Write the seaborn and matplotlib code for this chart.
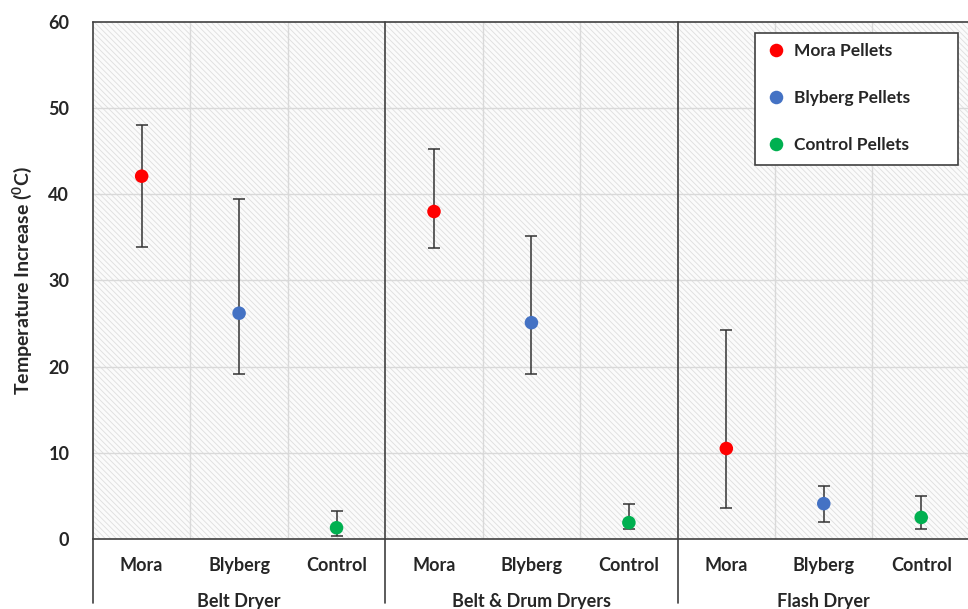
import numpy as np
import pandas as pd
import matplotlib
matplotlib.use("Agg")
import matplotlib.pyplot as plt
import seaborn as sns
from matplotlib.patches import Rectangle

# datos
grupos = ["Belt Dryer", "Belt & Drum Dryers", "Flash Dryer"]
pellets = ["Mora", "Blyberg", "Control"]
series = ["Mora Pellets", "Blyberg Pellets", "Control Pellets"]
valores = [42.1, 26.2, 1.3, 38.0, 25.1, 1.9, 10.5, 4.1, 2.5]
err_bajo = [33.9, 19.1, 0.3, 33.8, 19.2, 1.2, 3.6, 2.0, 1.2]
err_alto = [48.0, 39.5, 3.2, 45.2, 35.2, 4.0, 24.3, 6.1, 5.0]
colores = ["#ff0000", "#4472c4", "#00b050"]

sns.set_style("white")
plt.rcParams["font.family"] = ["Lato", "DejaVu Sans"]
plt.rcParams["hatch.color"] = "#dedede"
plt.rcParams["hatch.linewidth"] = 0.6

df = pd.DataFrame({
    "pos": np.arange(9),
    "valor": valores,
    "serie": series * 3,
    "bajo": err_bajo,
    "alto": err_alto,
})

fig = plt.figure(figsize=(9.68, 6.09), dpi=100)
ax = fig.add_axes([0.096, 0.115, 0.906, 0.849])

# fondo rayado
ax.add_patch(Rectangle((0, 0), 1, 1, transform=ax.transAxes, facecolor="#fbfbfb",
                       hatch="\\\\\\\\\\\\", edgecolor="#dedede", linewidth=0, zorder=0))

ax.set_xlim(-0.5, 8.5)
ax.set_ylim(0, 60)

# grilla
for y in range(10, 60, 10):
    ax.axhline(y, color="#d9d9d9", lw=1, zorder=1)
for x in np.arange(0.5, 8.5, 1):
    if x in (2.5, 5.5):
        continue
    ax.axvline(x, color="#d9d9d9", lw=1, zorder=1)

# barras de error
ax.errorbar(df["pos"], df["valor"],
            yerr=[df["valor"] - df["bajo"], df["alto"] - df["valor"]],
            fmt="none", ecolor="#333333", elinewidth=1.1, capsize=4, capthick=1.1, zorder=2)

sns.scatterplot(data=df, x="pos", y="valor", hue="serie", palette=colores,
                s=95, edgecolor="none", ax=ax, zorder=3)

# separadores de grupo que bajan hasta el borde
for x in (-0.5, 2.5, 5.5):
    ax.plot([x, x], [1.0, -0.124], transform=ax.get_xaxis_transform(),
            color="#404040", lw=1.2, clip_on=False, zorder=4)

for lado in ["top", "bottom"]:
    ax.spines[lado].set_color("#404040")
    ax.spines[lado].set_linewidth(1.2)
ax.spines["left"].set_visible(False)
ax.spines["right"].set_visible(False)

ax.set_yticks(range(0, 61, 10))
ax.set_yticklabels([str(v) for v in range(0, 61, 10)], fontsize=13, fontweight="bold")
ax.set_xticks(range(9))
ax.set_xticklabels(pellets * 3, fontsize=13, fontweight="bold")
ax.tick_params(axis="both", length=0)
ax.tick_params(axis="x", pad=13)
ax.tick_params(axis="y", pad=17)

for i, g in enumerate(grupos):
    ax.text(3 * i + 1, -0.12, g, transform=ax.get_xaxis_transform(),
            ha="center", va="center", fontsize=13, fontweight="bold")

ax.set_xlabel("")
ax.set_ylabel(r"Temperature Increase ($\mathregular{^0}$C)", fontsize=14,
              fontweight="bold", labelpad=10)

# leyenda sin marco + caja aparte (mas ancha, como en el original)
leg = ax.legend(loc="upper left", bbox_to_anchor=(0.7925, 0.930),
                bbox_transform=fig.transFigure, frameon=False,
                labelspacing=1.8, borderpad=0, borderaxespad=0,
                handlelength=1.0, handletextpad=0.55,
                prop={"size": 12.5, "weight": "bold"})
leg.set_zorder(6)
ax.add_patch(Rectangle((0.780, 0.729), 0.2097, 0.2167, transform=fig.transFigure,
                       facecolor="white", edgecolor="#404040", linewidth=1.2,
                       zorder=5, clip_on=False))

plt.savefig("out.png", dpi=100)
